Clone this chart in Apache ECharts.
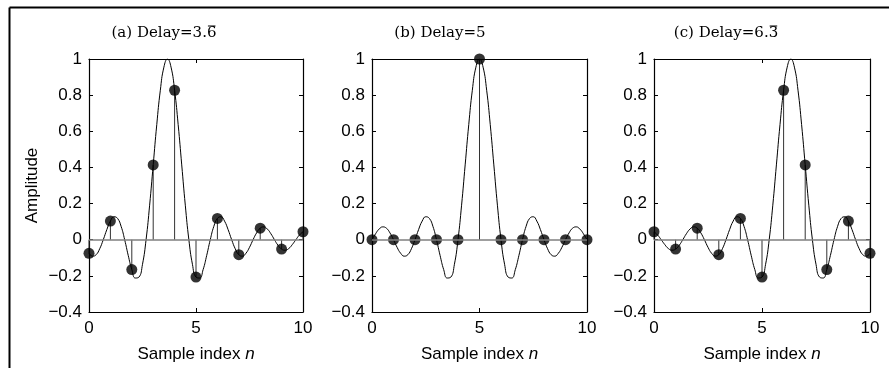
<!DOCTYPE html>
<html><head><meta charset="utf-8">
<script src="https://cdn.jsdelivr.net/npm/echarts@6/dist/echarts.min.js"></script>
<style>html,body{margin:0;padding:0;background:#fff}#c{width:889px;height:368px}</style>
</head><body><div id="c"></div>
<script>
// Panel titles: text before the last digit, the last digit, and whether that digit carries a repeat bar
const titlePre = ['(a) Delay=3.', '(b) Delay=', '(c) Delay=6.'];
const titleDigit = ['6', '5', '3'];
const titleBar = [true, false, true];
// Sample indices
const samples = [0,1,2,3,4,5,6,7,8,9,10];
// Sampled values (stems)
const stemsA = [-0.075, 0.103, -0.165, 0.414, 0.827, -0.207, 0.118, -0.083, 0.064, -0.052, 0.044];
const stemsB = [0, 0, 0, 0, 0, 1, 0, 0, 0, 0, 0];
const stemsC = [0.044, -0.052, 0.064, -0.083, 0.118, -0.207, 0.827, 0.414, -0.165, 0.103, -0.075];
// Continuous curve, read every 1/6 sample from 0 to 10
const curveStep = 1/6;
const curveA = [-0.075,-0.091,-0.083,-0.050,0,0.056,0.103,0.127,0.118,0.074,0,-0.087,-0.165,-0.212,-0.207,-0.136,0,0.191,0.414,0.637,0.827,0.955,1,0.955,0.827,0.637,0.414,0.191,0,-0.136,-0.207,-0.212,-0.165,-0.087,0,0.074,0.118,0.127,0.103,0.056,0,-0.050,-0.083,-0.091,-0.075,-0.042,0,0.038,0.064,0.071,0.059,0.033,0,-0.031,-0.052,-0.058,-0.049,-0.027,0,0.026,0.044];
const curveB = [0,0.033,0.059,0.071,0.064,0.038,0,-0.042,-0.075,-0.091,-0.083,-0.050,0,0.056,0.103,0.127,0.118,0.074,0,-0.087,-0.165,-0.212,-0.207,-0.136,0,0.191,0.414,0.637,0.827,0.955,1,0.955,0.827,0.637,0.414,0.191,0,-0.136,-0.207,-0.212,-0.165,-0.087,0,0.074,0.118,0.127,0.103,0.056,0,-0.050,-0.083,-0.091,-0.075,-0.042,0,0.038,0.064,0.071,0.059,0.033,0];
const curveC = [0.044,0.026,0,-0.027,-0.049,-0.058,-0.052,-0.031,0,0.033,0.059,0.071,0.064,0.038,0,-0.042,-0.075,-0.091,-0.083,-0.050,0,0.056,0.103,0.127,0.118,0.074,0,-0.087,-0.165,-0.212,-0.207,-0.136,0,0.191,0.414,0.637,0.827,0.955,1,0.955,0.827,0.637,0.414,0.191,0,-0.136,-0.207,-0.212,-0.165,-0.087,0,0.074,0.118,0.127,0.103,0.056,0,-0.050,-0.083,-0.091,-0.075];
// Axis ticks
const xTicks = [0, 5, 10];
const yTicks = [-0.4, -0.2, 0, 0.2, 0.4, 0.6, 0.8, 1];

const stems = [stemsA, stemsB, stemsC];
const curves = [curveA, curveB, curveC];

const panels = [
  {left: 89, width: 214, titleX: 164},
  {left: 372, width: 215, titleX: 440},
  {left: 654, width: 216, titleX: 726}
];
const gridTop = 59, gridH = 254;
const sans = 'Liberation Sans';
const titleFont = '15px "DejaVu Serif"';
const fmtY = v => { const r = Math.round(v*10)/10; return (r < 0 ? '\u2212' : '') + Math.abs(r); };

const mctx = document.createElement('canvas').getContext('2d');
mctx.font = titleFont;
const measure = s => mctx.measureText(s).width;

const grid = [], xAxis = [], yAxis = [], series = [];
const graphic = [
  {type: 'line', shape: {x1: 9.5, y1: 7.5, x2: 889, y2: 7.5}, style: {stroke: '#000', lineWidth: 2}},
  {type: 'line', shape: {x1: 9.5, y1: 7.5, x2: 9.5, y2: 368}, style: {stroke: '#000', lineWidth: 2}}
];
panels.forEach((p, i) => {
  grid.push({left: p.left, top: gridTop, width: p.width, height: gridH, show: false});
  const full = titlePre[i] + titleDigit[i];
  const W = measure(full), wPre = measure(titlePre[i]);
  const x0 = p.titleX - W/2;
  graphic.push({type: 'text', x: x0, y: 33, silent: true,
    style: {text: full, font: titleFont, fill: '#000', align: 'left', verticalAlign: 'middle'}});
  if (titleBar[i]) {
    graphic.push({type: 'line', silent: true, shape: {x1: x0 + wPre + 1, y1: 26, x2: x0 + W - 1, y2: 26},
      style: {stroke: '#000', lineWidth: 1}});
  }
  const xBase = {type: 'value', gridIndex: i, min: xTicks[0], max: xTicks[2], interval: 5,
    axisLine: {show: true, onZero: false, lineStyle: {color: '#000', width: 1.2}},
    axisTick: {show: true, inside: true, length: 4, lineStyle: {color: '#000'}},
    splitLine: {show: false}};
  xAxis.push(Object.assign({}, xBase, {position: 'bottom',
    axisLabel: {show: true, margin: 8, fontFamily: sans, fontSize: 17, color: '#000'},
    name: 'Sample index {i|n}', nameLocation: 'middle', nameGap: 34,
    nameTextStyle: {fontFamily: sans, fontSize: 17, color: '#000',
      rich: {i: {fontFamily: sans, fontSize: 17, fontStyle: 'italic', color: '#000'}}}}));
  xAxis.push(Object.assign({}, xBase, {position: 'top', axisLabel: {show: false}}));
  const yBase = {type: 'value', gridIndex: i, min: yTicks[0], max: yTicks[yTicks.length-1], interval: 0.2,
    axisLine: {show: true, onZero: false, lineStyle: {color: '#000', width: 1.2}},
    axisTick: {show: true, inside: true, length: 4, lineStyle: {color: '#000'}},
    splitLine: {show: false}};
  const yl = Object.assign({}, yBase, {position: 'left',
    axisLabel: {show: true, margin: 7, fontFamily: sans, fontSize: 17, color: '#000', formatter: fmtY}});
  if (i === 0) {
    yl.name = 'Amplitude'; yl.nameLocation = 'middle'; yl.nameGap = 48;
    yl.nameTextStyle = {fontFamily: sans, fontSize: 17, color: '#000'};
  }
  yAxis.push(yl);
  yAxis.push(Object.assign({}, yBase, {position: 'right', axisLabel: {show: false}}));

  const xi = i*2, yi = i*2;
  series.push({type: 'bar', xAxisIndex: xi, yAxisIndex: yi, barWidth: 1, silent: true,
    itemStyle: {color: '#333'}, data: samples.map((n, k) => [n, stems[i][k]]),
    markLine: {silent: true, symbol: 'none', label: {show: false},
      lineStyle: {color: '#7f7f7f', width: 1.6, type: 'solid'}, data: [{yAxis: 0}]}, z: 2});
  series.push({type: 'line', xAxisIndex: xi, yAxisIndex: yi, smooth: 0.5, showSymbol: false, silent: true,
    lineStyle: {color: '#000', width: 1}, data: curves[i].map((v, k) => [k*curveStep, v]), z: 3});
  series.push({type: 'scatter', xAxisIndex: xi, yAxisIndex: yi, symbol: 'circle', symbolSize: 11, silent: true,
    itemStyle: {color: '#000'}, data: samples.map((n, k) => [n, stems[i][k]]), z: 4});
});

const chart = echarts.init(document.getElementById('c'), null, {renderer: 'canvas'});
chart.setOption({
  animation: false,
  backgroundColor: '#fff',
  grid, xAxis, yAxis, series, graphic
});
</script></body></html>
